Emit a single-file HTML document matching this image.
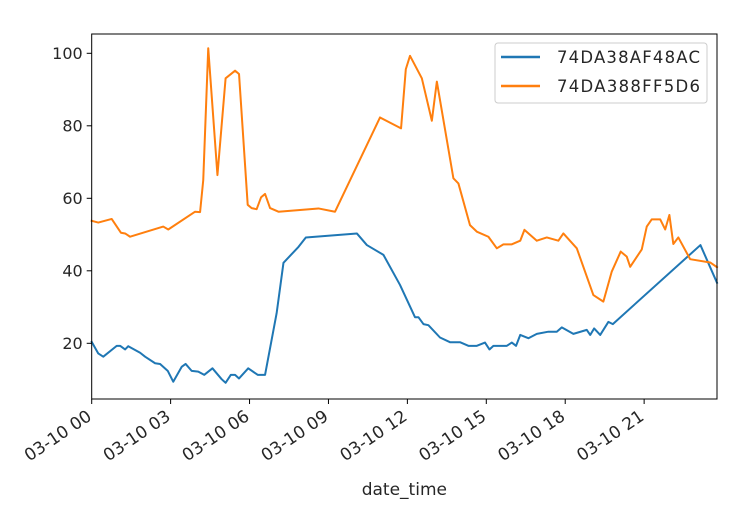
<!DOCTYPE html>
<html><head><meta charset="utf-8">
<style>
html,body{margin:0;padding:0;background:#fff;}
svg{display:block;font-family:"DejaVu Sans","Liberation Sans",sans-serif;}
</style></head>
<body>
<svg id="chart" width="742" height="518" viewBox="0 0 742 518" xmlns="http://www.w3.org/2000/svg">
<g id="axes"></g>
</svg>
<script>
const xTickHours=[0,3,6,9,12,15,18,21];
const xTickLabels=["03-10 00","03-10 03","03-10 06","03-10 09","03-10 12","03-10 15","03-10 18","03-10 21"];
const yTicks=[20,40,60,80,100];
const seriesNames=["74DA38AF48AC","74DA388FF5D6"];
const blueHours=[0,0.25,0.44,0.95,1.08,1.27,1.39,1.84,2.03,2.41,2.6,2.89,3.1,3.42,3.57,3.8,4.05,4.28,4.59,4.94,5.09,5.29,5.45,5.6,5.95,6.31,6.59,7.03,7.29,7.86,8.14,10.08,10.46,11.09,11.72,12.29,12.42,12.61,12.8,13.24,13.62,14,14.32,14.64,14.95,15.12,15.27,15.78,15.97,16.13,16.29,16.6,16.92,17.36,17.68,17.87,18.31,18.82,18.95,19.1,19.33,19.64,19.81,23.14,23.77];
const blueValues=[20.4,17.2,16.3,19.3,19.3,18.3,19.2,17.4,16.3,14.5,14.3,12.4,9.4,13.5,14.3,12.4,12.2,11.3,13.1,10.1,9.1,11.3,11.3,10.3,13.1,11.3,11.3,28.3,42.2,46.6,49.2,50.3,47.1,44.4,36.1,27.2,27.2,25.3,25,21.6,20.3,20.3,19.3,19.3,20.2,18.3,19.3,19.3,20.2,19.3,22.3,21.4,22.6,23.2,23.2,24.4,22.6,23.7,22.3,24.1,22.3,25.9,25.3,47.1,36.7];
const orangeHours=[0,0.25,0.76,1.11,1.27,1.46,2.72,2.91,3.93,4.12,4.24,4.43,4.78,5.09,5.45,5.6,5.93,6.08,6.27,6.44,6.59,6.78,7.1,8.62,9.25,10.96,11.76,11.94,12.1,12.55,12.93,13.12,13.75,13.94,14.38,14.64,15.08,15.4,15.65,15.97,16.29,16.45,16.92,17.3,17.74,17.93,18.44,19.07,19.45,19.77,20.11,20.34,20.47,20.91,21.1,21.29,21.61,21.8,21.96,22.11,22.3,22.75,23.51,23.77];
const orangeValues=[53.8,53.3,54.3,50.5,50.3,49.4,52.2,51.4,56.3,56.2,65,101.4,66.4,93.1,95.2,94.3,58.2,57.3,57,60.3,61.2,57.3,56.3,57.2,56.3,82.3,79.3,95.6,99.3,93.1,81.4,92.2,65.5,64.1,52.6,50.8,49.4,46.2,47.3,47.3,48.3,51.3,48.3,49.2,48.3,50.3,46.2,33.3,31.5,39.8,45.3,43.9,41.1,45.9,52.2,54.2,54.2,51.4,55.4,47.4,49.2,43.2,42.3,41];

const L=91.7,R=717,T=34,B=399;
const xMin=0,xMax=23.77;
const xs=h=>L+(h-xMin)/(xMax-xMin)*(R-L);
const ys=v=>53.3+(100-v)*(72.5/20);
const NS="http://www.w3.org/2000/svg";
const g=document.getElementById('axes');
function mk(tag,attrs,parent){const e=document.createElementNS(NS,tag);for(const k in attrs)e.setAttribute(k,attrs[k]);(parent||g).appendChild(e);return e;}

function drawLine(hours,vals,color,name){
  const d=hours.map((h,i)=>(i?'L':'M')+xs(h).toFixed(2)+','+ys(vals[i]).toFixed(2)).join(' ');
  const p=mk('path',{d:d,fill:'none',stroke:color,'stroke-width':2,'stroke-linejoin':'round','stroke-linecap':'square'});
  
  
}
drawLine(blueHours,blueValues,'#1f77b4','series-74da38af48ac');
drawLine(orangeHours,orangeValues,'#ff7f0e','series-74da388ff5d6');

const frame=mk('rect',{x:L,y:T,width:R-L,height:B-T,fill:'none',stroke:'#000','stroke-width':1});



yTicks.forEach(v=>{
  const y=ys(v);
  const t=mk('line',{x1:L-5,x2:L,y1:y,y2:y,stroke:'#000','stroke-width':1});
  
  
  const tx=mk('text',{x:L-9,y:y+5.5,'text-anchor':'end','font-size':16,fill:'#262626'});
  tx.textContent=v;
  
  
});
xTickHours.forEach((h,i)=>{
  const x=xs(h);
  const t=mk('line',{x1:x,x2:x,y1:B,y2:B+5,stroke:'#000','stroke-width':1});
  
  
  const ax=x+1, ay=B+20;
  const tx=mk('text',{x:ax,y:ay,'text-anchor':'end','font-size':17,fill:'#262626',transform:'rotate(-34 '+ax+' '+ay+')'});
  tx.textContent=xTickLabels[i];
  
  
});
const xl=mk('text',{x:(L+R)/2,y:495,'text-anchor':'middle','font-size':17,fill:'#262626'});
xl.textContent='date_time';



const lg=mk('g',{});


mk('rect',{x:495,y:43,width:212,height:60,rx:3,fill:'#fff','fill-opacity':0.8,stroke:'#ccc','stroke-width':1},lg);
const colors=['#1f77b4','#ff7f0e'];
seriesNames.forEach((n,i)=>{
  const y=57+i*29;
  const ln=mk('line',{x1:501,x2:540,y1:y,y2:y,stroke:colors[i],'stroke-width':2.5},lg);
  
  
  const tx=mk('text',{x:557,y:y+6,'font-size':16.5,fill:'#262626',textLength:143},lg);
  tx.textContent=n;
  
  
});
</script>
</body></html>
